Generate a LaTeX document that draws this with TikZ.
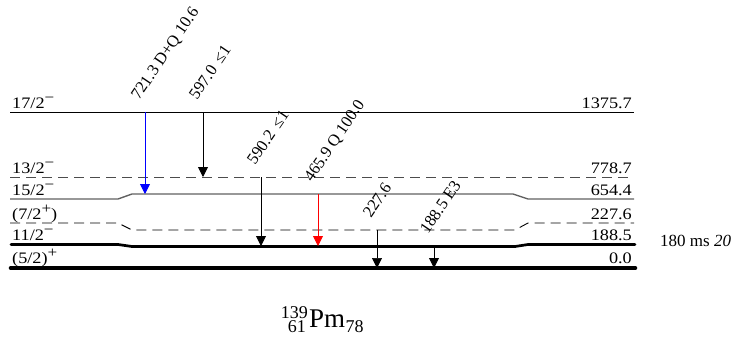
\documentclass[tikz,border=0pt]{standalone}
\usepackage{fontspec}
\setmainfont{Liberation Serif}
\newfontfamily\wideserif[FakeStretch=1.14]{Liberation Serif}
\usetikzlibrary{arrows.meta}
% raised parity sign
\newcommand\parsign[1]{\raisebox{0.36em}{\fontsize{15}{15}\selectfont #1}}
\tikzset{
  lvl/.style={line width=0.9pt, black},
  lvldash/.style={line width=0.9pt, dash pattern=on 10pt off 6pt},
  gam/.style={line width=0.9pt, -{Triangle[length=10pt,width=10pt]}},
  spin/.style={anchor=base west, inner sep=0pt, font=\wideserif\fontsize{16}{18}\selectfont},
  energy/.style={anchor=base east, inner sep=0pt, font=\wideserif\fontsize{16}{18}\selectfont},
  note/.style={anchor=base west, inner sep=0pt, font=\fontsize{17}{19}\selectfont},
  glab/.style={anchor=base west, inner sep=0pt, rotate=56, font=\fontsize{16.5}{18}\selectfont},
}
\begin{document}
\begin{tikzpicture}[x=1pt, y=-1pt]
\useasboundingbox (0,0) rectangle (739,345);

% level lines
\draw[lvl] (10,112) -- (634,112);
\draw[lvldash, black!70] (10,177) -- (634,177);
\draw[line width=1.4pt, black!62] (10,199) -- (118,199) -- (132,194) -- (513,194) -- (528,199) -- (634,199);
\draw[lvldash] (10,223) -- (118,223) -- (132,230) -- (515,230) -- (528,223) -- (634,223);
\draw[line width=2.7pt, line cap=round] (11,244.5) -- (118,244.5) -- (132,246.5) -- (515,246.5) -- (528,244.5) -- (635,244.5);
\draw[line width=4.6pt, line cap=round] (11,268) -- (635,268);

% spin-parity labels
\node[spin] (s1) at (12,108) {17/2\parsign{−}};
\node[spin] (s2) at (12,173) {13/2\parsign{−}};
\node[spin] (s3) at (12,195) {15/2\parsign{−}};
\node[spin] (s4) at (12,219) {(7/2\parsign{+})};
\node[spin] (s5) at (12,240) {11/2\parsign{−}};
\node[spin] (s6) at (12,263) {(5/2)\parsign{+}};

% level energies
\node[energy] (e1) at (632,108) {1375.7};
\node[energy] (e2) at (632,173) {778.7};
\node[energy] (e3) at (632,195) {654.4};
\node[energy] (e4) at (632,219) {227.6};
\node[energy] (e5) at (632,240) {188.5};
\node[energy] (e6) at (632,263) {0.0};

% isomer half-life
\node[note] (hl) at (660,246) {180 ms \textit{20}};

% gamma transitions
\coordinate (g1a) at (145,112); \coordinate (g1b) at (145,194);
\coordinate (g2a) at (203,112); \coordinate (g2b) at (203,177);
\coordinate (g3a) at (261,177); \coordinate (g3b) at (261,246);
\coordinate (g4a) at (318,194); \coordinate (g4b) at (318,246);
\coordinate (g5a) at (377,230); \coordinate (g5b) at (377,268);
\coordinate (g6a) at (434,246); \coordinate (g6b) at (434,268);

\draw[gam, blue] (g1a) -- (g1b);
\draw[gam] (g2a) -- (g2b);
\draw[gam] (g3a) -- (g3b);
\draw[gam, red] (g4a) -- (g4b);
\draw[gam, line width=0.7pt] (g5a) -- (g5b);
\draw[gam] (g6a) -- (g6b);

\node[glab] (l1) at ([shift={(-6,-11)}]g1a) {721.3 D+Q 10.6};
\node[glab] (l2) at ([shift={(-6,-11)}]g2a) {597.0 \,≤1};
\node[glab] (l3) at ([shift={(-6,-11)}]g3a) {590.2 \,≤1};
\node[glab] (l4) at ([shift={(-6,-11)}]g4a) {465.9 Q 100.0};
\node[glab] (l5) at ([shift={(-6,-11)}]g5a) {227.6};
\node[glab] (l6) at ([shift={(-6,-11)}]g6a) {188.5 E3};

% nucleus
\node[anchor=base east, inner sep=0pt, font=\fontsize{18}{20}\selectfont] (nA) at (308,318) {139};
\node[anchor=base east, inner sep=0pt, font=\fontsize{18}{20}\selectfont] (nZ) at (306,332) {61};
\node[anchor=base west, inner sep=0pt, font=\fontsize{27}{30}\selectfont] (nX) at (309,327) {Pm};
\node[anchor=base west, inner sep=0pt, font=\fontsize{18}{20}\selectfont] (nN) at (nX.base east) [yshift=-5pt] {78};
\end{tikzpicture}
\end{document}
